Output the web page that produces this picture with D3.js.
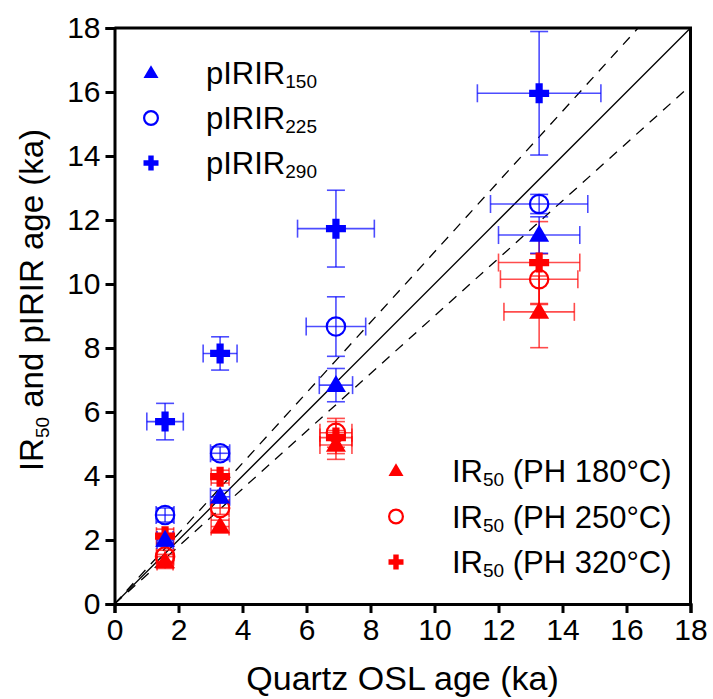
<!DOCTYPE html>
<html><head><meta charset="utf-8">
<script src="https://cdn.jsdelivr.net/npm/d3@7"></script>
<style>body{margin:0;background:#fff}svg{display:block}text{font-family:"Liberation Sans",Arial,sans-serif}</style>
</head><body>
<svg id="c" width="713" height="699"></svg>
<script>
const osl = [1.58, 3.30, 6.92, 13.27];
const xTicks = [0,2,4,6,8,10,12,14,16,18];
const yTicks = [0,2,4,6,8,10,12,14,16,18];

const p150 = [2.0, 3.35, 6.84, 11.53];
const p150Err = [0.2, 0.2, 0.52, 0.57];
const p150XErr = [0.25, 0.3, 0.52, 1.27];

const p225 = [2.78, 4.71, 8.67, 12.5];
const p225Err = [0.22, 0.2, 0.93, 0.3];
const p225XErr = [0.28, 0.3, 0.93, 1.52];

const p290 = [5.70, 7.83, 11.73, 15.96];
const p290Err = [0.57, 0.52, 1.2, 1.93];
const p290XErr = [0.57, 0.53, 1.2, 1.93];

const ir180 = [1.33, 2.42, 4.97, 9.13];
const ir180Err = [0.22, 0.2, 0.45, 1.12];
const ir180XErr = [0.25, 0.28, 0.5, 1.1];

const ir250 = [1.48, 3.0, 5.35, 10.15];
const ir250Err = [0.2, 0.2, 0.45, 0.79];
const ir250XErr = [0.27, 0.28, 0.5, 1.21];

const ir320 = [2.12, 3.98, 5.2, 10.67];
const ir320Err = [0.22, 0.2, 0.5, 1.28];
const ir320XErr = [0.27, 0.28, 0.5, 1.27];

const lineSlopes = [1.0, 1.1, 0.9];

const BLUE = "#0000ff", RED = "#ff0000";
const series = [
  {name:"ir180", y:ir180, ye:ir180Err, xe:ir180XErr, color:RED, shape:"tri"},
  {name:"ir250", y:ir250, ye:ir250Err, xe:ir250XErr, color:RED, shape:"circ"},
  {name:"ir320", y:ir320, ye:ir320Err, xe:ir320XErr, color:RED, shape:"plus"},
  {name:"p150", y:p150, ye:p150Err, xe:p150XErr, color:BLUE, shape:"tri"},
  {name:"p225", y:p225, ye:p225Err, xe:p225XErr, color:BLUE, shape:"circ"},
  {name:"p290", y:p290, ye:p290Err, xe:p290XErr, color:BLUE, shape:"plus"}
];

const svg = d3.select("#c");
const L = 114.5, R = 690.5, T = 28, B = 604;
const x = d3.scaleLinear().domain([0,18]).range([L,R]);
const y = d3.scaleLinear().domain([0,18]).range([B,T]);

svg.append("defs").append("clipPath").attr("id","clip")
  .append("rect").attr("x",L).attr("y",T).attr("width",R-L).attr("height",B-T);

// reference lines
const lg = svg.append("g").attr("clip-path","url(#clip)");
lineSlopes.forEach((s,i)=>{
  lg.append("line")
    .attr("x1",x(0)).attr("y1",y(0))
    .attr("x2",x(20)).attr("y2",y(20*s))
    .attr("stroke","#000").attr("stroke-width",1.3)
    .attr("stroke-dasharray", i===0 ? null : "10,8");
});

function shapePath(shape, s){
  if(shape==="tri"){
    const w=s, h=s*0.85;
    return `M0,${-h*0.6}L${w/2},${h*0.4}L${-w/2},${h*0.4}Z`;
  }
  if(shape==="plus"){
    const a=s/2, t=s*0.18;
    return `M${-t},${-a}H${t}V${-t}H${a}V${t}H${t}V${a}H${-t}V${t}H${-a}V${-t}H${-t}Z`;
  }
  return null;
}
function drawMarker(g, shape, color, cx, cy, s){
  if(shape==="circ"){
    g.append("circle").attr("cx",cx).attr("cy",cy).attr("r",s*0.46)
      .attr("fill","none").attr("stroke",color).attr("stroke-width",2.2);
  } else {
    g.append("path").attr("d",shapePath(shape,s))
      .attr("transform",`translate(${cx},${cy})`).attr("fill",color);
  }
}

// error bars
const cap = 9;
series.forEach(sr=>{
  const g = svg.append("g").attr("stroke",sr.color).attr("stroke-width",1.6).attr("stroke-opacity",0.7);
  osl.forEach((xv,i)=>{
    const cx=x(xv), cy=y(sr.y[i]);
    const y1=y(sr.y[i]+sr.ye[i]), y2=y(sr.y[i]-sr.ye[i]);
    const x1=x(xv-sr.xe[i]), x2=x(xv+sr.xe[i]);
    g.append("line").attr("x1",cx).attr("x2",cx).attr("y1",y1).attr("y2",y2);
    g.append("line").attr("x1",cx-cap).attr("x2",cx+cap).attr("y1",y1).attr("y2",y1);
    g.append("line").attr("x1",cx-cap).attr("x2",cx+cap).attr("y1",y2).attr("y2",y2);
    g.append("line").attr("x1",x1).attr("x2",x2).attr("y1",cy).attr("y2",cy);
    g.append("line").attr("x1",x1).attr("x2",x1).attr("y1",cy-cap).attr("y2",cy+cap);
    g.append("line").attr("x1",x2).attr("x2",x2).attr("y1",cy-cap).attr("y2",cy+cap);
  });
});
// markers
series.forEach(sr=>{
  const g = svg.append("g");
  osl.forEach((xv,i)=> drawMarker(g, sr.shape, sr.color, x(xv), y(sr.y[i]), 20));
});

// axes
const ax = svg.append("g").attr("transform",`translate(0,${B})`)
  .call(d3.axisBottom(x).tickValues(xTicks).tickSize(9).tickPadding(6).tickFormat(d3.format("d")));
const ay = svg.append("g").attr("transform",`translate(${L},0)`)
  .call(d3.axisLeft(y).tickValues(yTicks).tickSize(9).tickPadding(5).tickFormat(d3.format("d")));
[ax,ay].forEach(a=>{
  a.select(".domain").attr("stroke","#000").attr("stroke-width",3);
  a.selectAll(".tick line").attr("stroke","#000").attr("stroke-width",3);
  a.selectAll(".tick text").attr("fill","#000").style("font-size","30px").style("font-family","'Liberation Sans',Arial,sans-serif");
});
// frame top/right
svg.append("line").attr("x1",L).attr("x2",R+1.5).attr("y1",T).attr("y2",T).attr("stroke","#000").attr("stroke-width",3);
svg.append("line").attr("x1",R).attr("x2",R).attr("y1",T).attr("y2",B).attr("stroke","#000").attr("stroke-width",3);

// axis titles
svg.append("text").attr("x",(L+R)/2).attr("y",690).attr("text-anchor","middle")
  .style("font-size","34px").text("Quartz OSL age (ka)");
const yt = svg.append("text").attr("transform",`translate(43,300) rotate(-90)`)
  .attr("text-anchor","middle").style("font-size","33px");
yt.append("tspan").text("IR");
yt.append("tspan").text("50").style("font-size","19px").attr("dy",6);
yt.append("tspan").text(" and pIRIR age (ka)").attr("dy",-6);

// legends
const legBlue = [
  {shape:"tri", main:"pIRIR", sub:"150", rest:""},
  {shape:"circ", main:"pIRIR", sub:"225", rest:""},
  {shape:"plus", main:"pIRIR", sub:"290", rest:""}
];
const legRed = [
  {shape:"tri", main:"IR", sub:"50", rest:" (PH 180°C)"},
  {shape:"circ", main:"IR", sub:"50", rest:" (PH 250°C)"},
  {shape:"plus", main:"IR", sub:"50", rest:" (PH 320°C)"}
];
function legend(items, color, sx, tx, y0, dy){
  const g = svg.append("g");
  items.forEach((it,i)=>{
    const cy = y0 + i*dy;
    drawMarker(g, it.shape, color, sx, cy, 15);
    const t = g.append("text").attr("x",tx).attr("y",cy+11).style("font-size","31px").attr("fill","#000");
    t.append("tspan").text(it.main);
    t.append("tspan").text(it.sub).style("font-size","19px").attr("dy",4);
    if(it.rest) t.append("tspan").text(it.rest).attr("dy",-4);
  });
}
legend(legBlue, BLUE, 151, 206, 73, 45);
legend(legRed, RED, 396, 452, 471, 45.5);
</script>
</body></html>
